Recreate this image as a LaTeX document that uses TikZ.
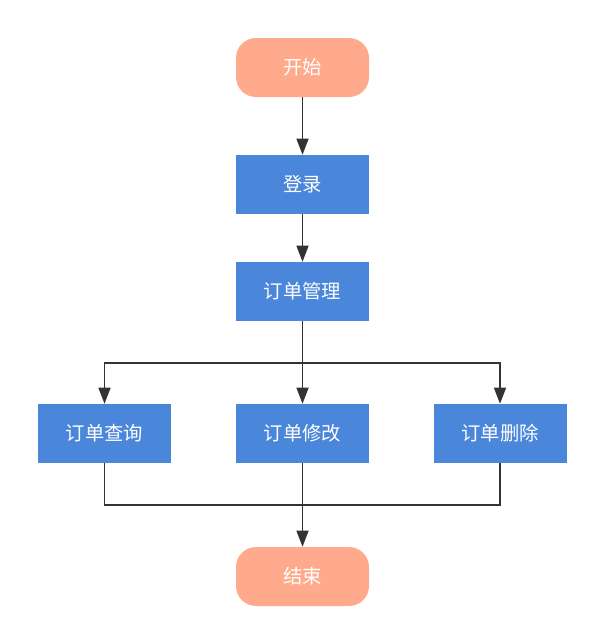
\documentclass[tikz,border=0pt]{standalone}
\usepackage{fontspec}
\newfontfamily\cjk{Noto Sans CJK SC}
\usetikzlibrary{arrows.meta}
\definecolor{termfill}{HTML}{FFAA8C}
\definecolor{procfill}{HTML}{4A86D9}
\definecolor{linecol}{HTML}{333333}
\begin{document}
\begin{tikzpicture}[x=0.75pt,y=-0.75pt,
  box/.style={minimum width=99.75pt,minimum height=44.25pt,inner sep=0pt,
    text=white,font=\cjk\fontsize{14.5pt}{17pt}\selectfont},
  proc/.style={box,fill=procfill},
  term/.style={box,fill=termfill,rounded corners=15pt},
  link/.style={draw=linecol,line width=1pt},
  arr/.style={link,-{Triangle[length=12pt,width=9pt]}}]
\useasboundingbox (0,0) rectangle (604,643);
\node[term] (start) at (302.5,67.5) {开始};
\node[proc] (login) at (302.5,184.5) {登录};
\node[proc] (mgmt) at (302.5,291.5) {订单管理};
\node[proc] (query) at (104.5,433.5) {订单查询};
\node[proc] (edit) at (302.5,433.5) {订单修改};
\node[proc] (del) at (500,433.5) {订单删除};
\node[term] (stop) at (302.5,576.5) {结束};
\coordinate (split) at (302.5,363);
\coordinate (join) at (302.5,505);
\draw[arr] (start) -- (login);
\draw[arr] (login) -- (mgmt);
\draw[arr] (mgmt) -- (edit);
\draw[arr] (split) -| (query);
\draw[arr] (split) -| (del);
\draw[link] (query.south) |- (join);
\draw[link] (del.south) |- (join);
\draw[arr] (edit) -- (stop);
\end{tikzpicture}
\end{document}
